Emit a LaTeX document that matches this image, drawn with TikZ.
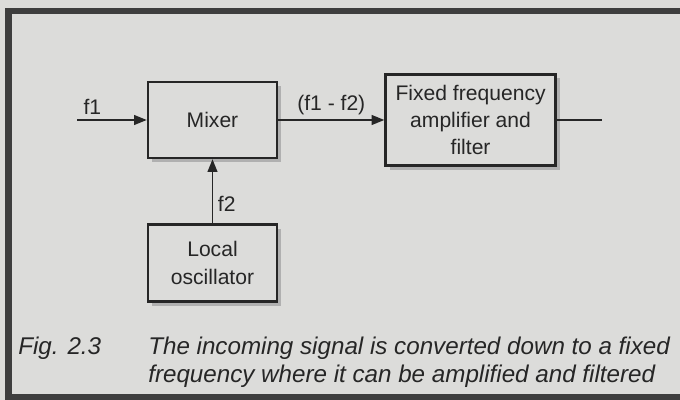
\documentclass[tikz,border=0pt]{standalone}
\usepackage{fontspec}
\setmainfont{Liberation Sans}
\usetikzlibrary{arrows.meta, positioning, shadows}

\definecolor{paper}{RGB}{220,220,218}
\definecolor{ink}{RGB}{38,38,38}
\definecolor{rim}{RGB}{62,62,62}

\begin{document}
\begin{tikzpicture}[
    x=0.025cm, y=-0.025cm,
    node distance = 1.6cm and 2.65cm,
    block/.style = {
        draw=ink,
        line width=1.8pt,
        fill=paper,
        align=center,
        text=ink,
        font=\fontsize{15}{19.5}\selectfont,
        inner sep=0pt,
        drop shadow={shadow xshift=0.1cm, shadow yshift=-0.1cm,
                     fill=black!35, opacity=0.8}
    },
    lbl/.style = {
        text=ink,
        font=\fontsize{15}{18}\selectfont
    },
    arrow/.style = {-{Triangle[length=9pt, width=7pt]}, line width=1.1pt, draw=ink},
    wire/.style = {line width=1.1pt, draw=ink},
    caption/.style = {
        text=ink,
        font=\fontsize{17.2}{20}\selectfont\itshape,
        inner sep=0pt,
        anchor=base west
    }
]

%% -- Papier und Rahmen -------------------------------------------------------

\path[use as bounding box, fill=paper] (0,0) rectangle (680,400);
\draw[rim, line width=4.3pt] (700,11) -| (8.5,397) -- (700,397);

%% -- Bloecke -----------------------------------------------------------------

\node[block, minimum width=3.225cm, minimum height=1.9cm] (mix) at (212.5,120) {Mixer};

\node[block, minimum width=4.25cm, minimum height=2.275cm, right=of mix]
    (amp) {Fixed frequency\\amplifier and\\filter};

\node[block, minimum width=3.225cm, minimum height=1.925cm, below=of mix]
    (osc) {Local\\oscillator};

\coordinate (in)  at (77,120);
\coordinate (out) at (602,120);

%% -- Verbindungen ------------------------------------------------------------

\draw[arrow] (in)  -- node[lbl, above, pos=0.22] {f1} (mix);
\draw[arrow] (mix) -- node[lbl, above] {(f1 - f2)} (amp);
\draw[arrow] (osc) -- node[lbl, right, pos=0.31] {f2} (mix);
\draw[wire]  (amp) -- (out);

%% -- Bildunterschrift --------------------------------------------------------

\node[caption] (fig)  at (18,355)  {Fig. 2.3};
\node[caption] (cap1) at (148,355) {The incoming signal is converted down to a fixed};
\node[caption] (cap2) at (148,383) {frequency where it can be amplified and filtered};

\end{tikzpicture}
\end{document}
